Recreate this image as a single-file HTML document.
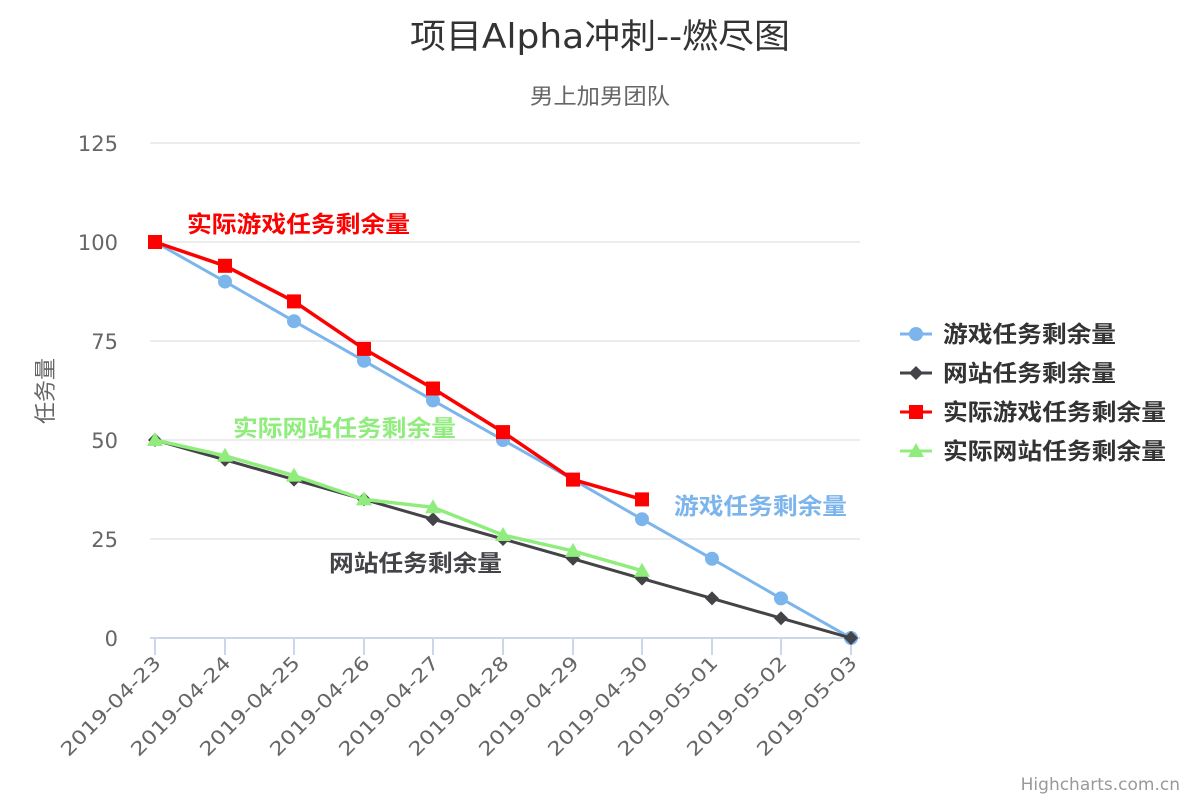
<!DOCTYPE html>
<html><head><meta charset="utf-8"><style>
html,body{margin:0;padding:0;background:#fff}
svg{display:block;font-family:"DejaVu Sans","Noto Sans CJK SC",sans-serif}
</style></head><body>
<svg width="1200" height="800" viewBox="0 0 1200 800">
<rect width="1200" height="800" fill="#fff"/>
<text x="410" y="48" font-size="34" fill="#333" textLength="380" lengthAdjust="spacingAndGlyphs">项目Alpha冲刺--燃尽图</text>
<text x="530" y="104" font-size="22" fill="#666" textLength="140" lengthAdjust="spacingAndGlyphs">男上加男团队</text>
<g stroke="#e6e6e6" stroke-width="1.5">
<line x1="150" x2="860" y1="143" y2="143"/><line x1="150" x2="860" y1="242" y2="242"/>
<line x1="150" x2="860" y1="341" y2="341"/><line x1="150" x2="860" y1="440" y2="440"/>
<line x1="150" x2="860" y1="539" y2="539"/>
</g>
<line x1="150" x2="860" y1="638" y2="638" stroke="#ccd6eb" stroke-width="2"/>
<g stroke="#ccd6eb" stroke-width="2">
<line x1="155" x2="155" y1="638" y2="655"/><line x1="225" x2="225" y1="638" y2="655"/><line x1="294" x2="294" y1="638" y2="655"/><line x1="364" x2="364" y1="638" y2="655"/><line x1="433" x2="433" y1="638" y2="655"/><line x1="503" x2="503" y1="638" y2="655"/><line x1="573" x2="573" y1="638" y2="655"/><line x1="642" x2="642" y1="638" y2="655"/><line x1="712" x2="712" y1="638" y2="655"/><line x1="781" x2="781" y1="638" y2="655"/><line x1="851" x2="851" y1="638" y2="655"/>
</g>
<g font-size="21" fill="#666" text-anchor="end">
<text x="118" y="151">125</text><text x="118" y="250">100</text><text x="118" y="349">75</text><text x="118" y="448">50</text><text x="118" y="547">25</text><text x="118" y="646">0</text>
</g>
<text transform="translate(53,391) rotate(-90)" text-anchor="middle" font-size="22" fill="#666">任务量</text>
<g font-size="19" fill="#666" text-anchor="end">
<text transform="translate(162,664) rotate(-45)" textLength="132" lengthAdjust="spacingAndGlyphs">2019-04-23</text>
<text transform="translate(232,664) rotate(-45)" textLength="132" lengthAdjust="spacingAndGlyphs">2019-04-24</text>
<text transform="translate(301,664) rotate(-45)" textLength="132" lengthAdjust="spacingAndGlyphs">2019-04-25</text>
<text transform="translate(371,664) rotate(-45)" textLength="132" lengthAdjust="spacingAndGlyphs">2019-04-26</text>
<text transform="translate(440,664) rotate(-45)" textLength="132" lengthAdjust="spacingAndGlyphs">2019-04-27</text>
<text transform="translate(510,664) rotate(-45)" textLength="132" lengthAdjust="spacingAndGlyphs">2019-04-28</text>
<text transform="translate(580,664) rotate(-45)" textLength="132" lengthAdjust="spacingAndGlyphs">2019-04-29</text>
<text transform="translate(649,664) rotate(-45)" textLength="132" lengthAdjust="spacingAndGlyphs">2019-04-30</text>
<text transform="translate(719,664) rotate(-45)" textLength="132" lengthAdjust="spacingAndGlyphs">2019-05-01</text>
<text transform="translate(788,664) rotate(-45)" textLength="132" lengthAdjust="spacingAndGlyphs">2019-05-02</text>
<text transform="translate(858,664) rotate(-45)" textLength="132" lengthAdjust="spacingAndGlyphs">2019-05-03</text>
</g>
<polyline fill="none" stroke="#7cb5ec" stroke-width="3" points="155,242 225,281.6 294,321.2 364,360.8 433,400.4 503,440 573,479.6 642,519.2 712,558.8 781,598.4 851,638"/>
<g fill="#7cb5ec">
<circle cx="155" cy="242" r="7"/><circle cx="225" cy="281.6" r="7"/><circle cx="294" cy="321.2" r="7"/><circle cx="364" cy="360.8" r="7"/><circle cx="433" cy="400.4" r="7"/><circle cx="503" cy="440" r="7"/><circle cx="573" cy="479.6" r="7"/><circle cx="642" cy="519.2" r="7"/><circle cx="712" cy="558.8" r="7"/><circle cx="781" cy="598.4" r="7"/><circle cx="851" cy="638" r="7"/>
</g>
<polyline fill="none" stroke="#434348" stroke-width="3" points="155,440 225,459.8 294,479.6 364,499.4 433,519.2 503,539 573,558.8 642,578.6 712,598.4 781,618.2 851,638"/>
<g fill="#434348">
<path d="M155 433l7 7-7 7-7-7z"/><path d="M225 452.8l7 7-7 7-7-7z"/><path d="M294 472.6l7 7-7 7-7-7z"/><path d="M364 492.4l7 7-7 7-7-7z"/><path d="M433 512.2l7 7-7 7-7-7z"/><path d="M503 532l7 7-7 7-7-7z"/><path d="M573 551.8l7 7-7 7-7-7z"/><path d="M642 571.6l7 7-7 7-7-7z"/><path d="M712 591.4l7 7-7 7-7-7z"/><path d="M781 611.2l7 7-7 7-7-7z"/><path d="M851 631l7 7-7 7-7-7z"/>
</g>
<polyline fill="none" stroke="#ff0000" stroke-width="3.5" points="155,242 225,265.8 294,301.4 364,348.9 433,388.5 503,432.1 573,479.6 642,499.4"/>
<g fill="#ff0000">
<rect x="148" y="235" width="14" height="14"/><rect x="218" y="258.8" width="14" height="14"/><rect x="287" y="294.4" width="14" height="14"/><rect x="357" y="341.9" width="14" height="14"/><rect x="426" y="381.5" width="14" height="14"/><rect x="496" y="425.1" width="14" height="14"/><rect x="566" y="472.6" width="14" height="14"/><rect x="635" y="492.4" width="14" height="14"/>
</g>
<polyline fill="none" stroke="#90ed7d" stroke-width="3.5" points="155,440 225,455.8 294,475.6 364,499.4 433,507.3 503,535 573,550.9 642,570.7"/>
<g fill="#90ed7d">
<path d="M155 432l8 14h-16z"/><path d="M225 447.8l8 14h-16z"/><path d="M294 467.6l8 14h-16z"/><path d="M364 491.4l8 14h-16z"/><path d="M433 499.3l8 14h-16z"/><path d="M503 527l8 14h-16z"/><path d="M573 542.9l8 14h-16z"/><path d="M642 562.7l8 14h-16z"/>
</g>
<g font-size="23" font-weight="bold">
<text x="187" y="232" fill="#ff0000" textLength="223" lengthAdjust="spacingAndGlyphs">实际游戏任务剩余量</text>
<text x="233" y="436" fill="#90ed7d" textLength="223" lengthAdjust="spacingAndGlyphs">实际网站任务剩余量</text>
<text x="674" y="514" fill="#7cb5ec" textLength="173" lengthAdjust="spacingAndGlyphs">游戏任务剩余量</text>
<text x="329" y="571" fill="#434348" textLength="173" lengthAdjust="spacingAndGlyphs">网站任务剩余量</text>
</g>
<g font-size="23" font-weight="bold" fill="#333">
<line x1="900" x2="932" y1="334" y2="334" stroke="#7cb5ec" stroke-width="3"/><circle cx="916" cy="334" r="7" fill="#7cb5ec"/>
<text x="943" y="342" textLength="173" lengthAdjust="spacingAndGlyphs">游戏任务剩余量</text>
<line x1="900" x2="932" y1="373" y2="373" stroke="#434348" stroke-width="3"/><path d="M916 366l7 7-7 7-7-7z" fill="#434348"/>
<text x="943" y="381" textLength="173" lengthAdjust="spacingAndGlyphs">网站任务剩余量</text>
<line x1="900" x2="932" y1="412" y2="412" stroke="#ff0000" stroke-width="3"/><rect x="909" y="405" width="14" height="14" fill="#ff0000"/>
<text x="943" y="420" textLength="223" lengthAdjust="spacingAndGlyphs">实际游戏任务剩余量</text>
<line x1="900" x2="932" y1="451" y2="451" stroke="#90ed7d" stroke-width="3"/><path d="M916 443l8 14h-16z" fill="#90ed7d"/>
<text x="943" y="459" textLength="223" lengthAdjust="spacingAndGlyphs">实际网站任务剩余量</text>
</g>
<text x="1180" y="790" text-anchor="end" font-size="17" fill="#999">Highcharts.com.cn</text>
</svg>
</body></html>
